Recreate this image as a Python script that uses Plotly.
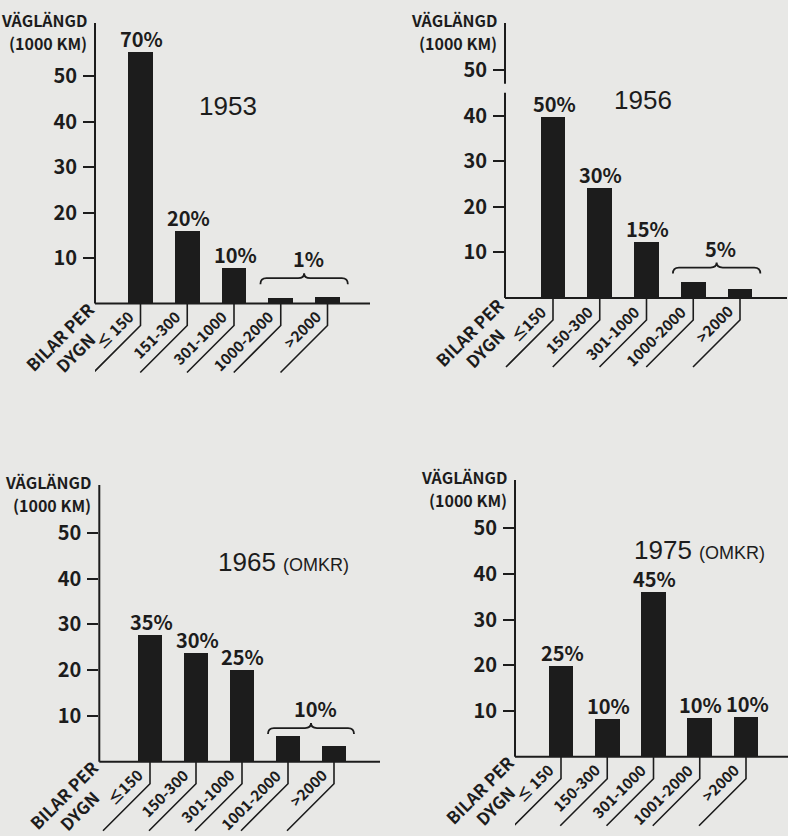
import plotly.graph_objects as go

# ---------------------------------------------------------------- data
years = ["1953", "1956", "1965", "1975"]
year_notes = ["", "", "(OMKR)", "(OMKR)"]

categories_1953 = ["≤ 150", "151-300", "301-1000", "1000-2000", ">2000"]
categories_1956 = ["≤150", "150-300", "301-1000", "1000-2000", ">2000"]
categories_1965 = ["≤150", "150-300", "301-1000", "1001-2000", ">2000"]
categories_1975 = ["≤ 150", "150-300", "301-1000", "1001-2000", ">2000"]

# road length (1000 km) per traffic class (cars per day)
road_km_1953 = [55.3, 15.9, 7.8, 1.2, 1.4]
road_km_1956 = [39.8, 24.2, 12.3, 3.6, 2.0]
road_km_1965 = [27.7, 23.7, 20.0, 5.6, 3.4]
road_km_1975 = [19.8, 8.2, 36.0, 8.5, 8.7]

# share of traffic carried by each class
share_1953 = ["70%", "20%", "10%", None, None]
share_1956 = ["50%", "30%", "15%", None, None]
share_1965 = ["35%", "30%", "25%", None, None]
share_1975 = ["25%", "10%", "45%", "10%", "10%"]

# combined share for the two busiest classes, shown over a brace
grouped_share = ["1%", "5%", "10%", None]

y_ticks = [10, 20, 30, 40, 50]
y_title_lines = ["VÄGLÄNGD", "(1000 KM)"]
x_title = "BILAR PER<br>DYGN"

# ---------------------------------------------------------------- style
W, H = 788, 836
BG = "#e8e8e6"
INK = "#1c1c1c"
COND = "Noto Sans CJK JP, Noto Sans CJK SC, Liberation Sans, sans-serif"
PLAIN = "Liberation Sans, Arial, DejaVu Sans, sans-serif"
BAR_WIDTH = 0.53

# panel geometry in page pixels
panels = [
    dict(axis_x=95, right_x=370, base_y=303.5, top_y=23, ppu=4.55, first=140.5, step=46.75,
         bottom=-22, title_xy=(228, 106), brace_gap=19, axis_break=None),
    dict(axis_x=505, right_x=787, base_y=298, top_y=23, ppu=4.56, first=553, step=46.75,
         bottom=-22, title_xy=(643, 100), brace_gap=14, axis_break=(45.0, 47.0)),
    dict(axis_x=99.3, right_x=380, base_y=761.7, top_y=485, ppu=4.58, first=150, step=46,
         bottom=-16, title_xy=(283, 562), brace_gap=8, axis_break=None),
    dict(axis_x=515, right_x=788, base_y=756.7, top_y=480, ppu=4.57, first=561, step=46.25,
         bottom=-17, title_xy=(699, 550), brace_gap=8, axis_break=None),
]

categories = [categories_1953, categories_1956, categories_1965, categories_1975]
values = [road_km_1953, road_km_1956, road_km_1965, road_km_1975]
shares = [share_1953, share_1956, share_1965, share_1975]

fig = go.Figure()
shapes = []
annotations = []
layout_axes = {}


def bold(size):
    return dict(family=COND, size=size, color=INK, weight="bold")


for k, geo in enumerate(panels):
    n = k + 1
    xa = "x" if n == 1 else f"x{n}"
    ya = "y" if n == 1 else f"y{n}"
    cats = categories[k]
    vals = values[k]

    y_top = (geo["base_y"] - geo["top_y"]) / geo["ppu"]
    bottom_px = geo["base_y"] - geo["bottom"] * geo["ppu"]
    x_lo = (geo["axis_x"] - geo["first"]) / geo["step"]
    x_hi = (geo["right_x"] - geo["first"]) / geo["step"]

    fig.add_trace(go.Bar(
        x=cats, y=vals, xaxis=xa, yaxis=ya, width=BAR_WIDTH,
        marker=dict(color=INK, line=dict(width=0)), showlegend=False, hoverinfo="x+y",
    ))

    layout_axes["xaxis" if n == 1 else f"xaxis{n}"] = dict(
        type="category", categoryorder="array", categoryarray=cats,
        domain=[geo["axis_x"] / W, min(geo["right_x"] / W, 1.0)],
        range=[x_lo, x_hi], anchor=ya, visible=False, fixedrange=True,
    )
    layout_axes["yaxis" if n == 1 else f"yaxis{n}"] = dict(
        domain=[max(1 - bottom_px / H, 0.0), 1 - geo["top_y"] / H],
        range=[geo["bottom"], y_top], anchor=xa,
        tickvals=y_ticks, ticktext=[str(t) for t in y_ticks],
        ticks="outside", ticklen=11, tickwidth=2, tickcolor=INK,
        tickfont=bold(20), ticklabelstandoff=2,
        showline=False, showgrid=False, zeroline=False, fixedrange=True,
    )

    xd = f"{xa} domain"
    yd = f"{ya} domain"

    # baseline
    shapes.append(dict(type="line", xref=xd, yref=ya, x0=0, x1=1, y0=0, y1=0,
                       line=dict(color=INK, width=2)))
    # value axis line (with an optional break)
    segs = [(0, y_top)]
    if geo["axis_break"]:
        b0, b1 = geo["axis_break"]
        segs = [(0, b0), (b1, y_top)]
    for s0, s1 in segs:
        shapes.append(dict(type="line", xref=xd, yref=ya, x0=0, x1=0, y0=s0, y1=s1,
                           line=dict(color=INK, width=2)))

    # leader lines and slanted class labels
    for i, c in enumerate(cats):
        shapes.append(dict(type="path", xref=xa, yref=ya,
                           xsizemode="pixel", xanchor=i, ysizemode="pixel", yanchor=0,
                           path="M0,0 L0,-22 L-47,-69",
                           line=dict(color=INK, width=1.6)))
        annotations.append(dict(xref=xa, yref=ya, x=i, y=0, text=c, textangle=-45,
                                xanchor="right", yanchor="top", xshift=0, yshift=0,
                                showarrow=False, font=bold(15)))

    # axis captions
    annotations.append(dict(xref=xd, yref=ya, x=0, y=0, text=x_title, textangle=-45,
                            xanchor="center", yanchor="middle", xshift=-28, yshift=-41,
                            showarrow=False, align="center", font=bold(17)))
    for line_text, dy in zip(y_title_lines, [3, -20]):
        annotations.append(dict(xref=xd, yref=yd, x=0, y=1, text=line_text,
                                xanchor="right", yanchor="middle", xshift=-6, yshift=dy,
                                showarrow=False, font=bold(16)))

    # percentage labels over bars
    for i, (v, s) in enumerate(zip(vals, shares[k])):
        if s:
            annotations.append(dict(xref=xa, yref=ya, x=i, y=v, text=s,
                                    xanchor="center", yanchor="bottom", xshift=1, yshift=-3,
                                    showarrow=False, font=bold(20)))

    # brace over the two busiest classes
    if grouped_share[k]:
        a, b = len(cats) - 2, len(cats) - 1
        top = max(vals[a], vals[b])
        g = geo["brace_gap"]
        xl, xr = a - BAR_WIDTH / 2 - 0.17, b + BAR_WIDTH / 2 + 0.17
        xm = (a + b) / 2
        d = 0.13
        path = (f"M{xl},{g - 6} Q{xl},{g} {xl + d},{g} L{xm - d},{g} "
                f"Q{xm},{g} {xm},{g + 5} Q{xm},{g} {xm + d},{g} "
                f"L{xr - d},{g} Q{xr},{g} {xr},{g - 6}")
        shapes.append(dict(type="path", xref=xa, yref=ya, ysizemode="pixel", yanchor=top,
                           path=path, line=dict(color=INK, width=1.8)))
        annotations.append(dict(xref=xa, yref=ya, x=xm, y=top, text=grouped_share[k],
                                xanchor="center", yanchor="bottom", xshift=4, yshift=g + 3,
                                showarrow=False, font=bold(20)))

    # year heading
    tx, ty = geo["title_xy"]
    head = years[k]
    if year_notes[k]:
        head += f" <span style='font-size:18px'>{year_notes[k]}</span>"
    annotations.append(dict(xref="paper", yref="paper", x=tx / W, y=1 - ty / H, text=head,
                            xanchor="center", yanchor="middle", showarrow=False,
                            font=dict(family=PLAIN, size=26, color=INK)))

fig.update_layout(
    width=W, height=H, autosize=False,
    margin=dict(l=0, r=0, t=0, b=0, pad=0),
    paper_bgcolor=BG, plot_bgcolor=BG,
    bargap=0, showlegend=False,
    shapes=shapes, annotations=annotations,
    **layout_axes,
)

fig.write_html("out.html")
